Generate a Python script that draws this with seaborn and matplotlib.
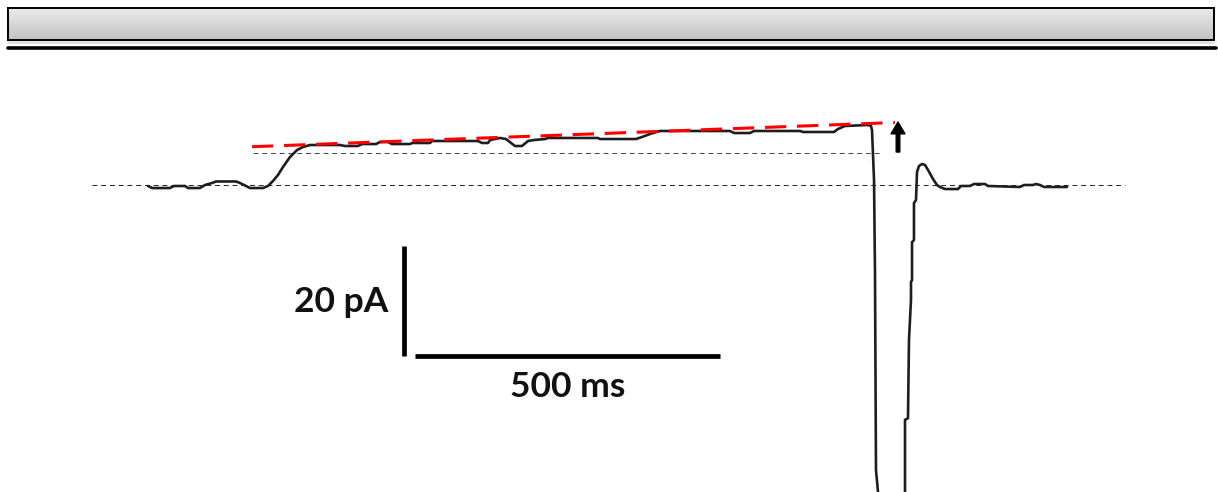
import numpy as np
import pandas as pd
import matplotlib
matplotlib.use("Agg")
import matplotlib.pyplot as plt
import seaborn as sns
from matplotlib.lines import Line2D

sns.set_style("white")
plt.rcParams["font.family"] = ["Lato", "DejaVu Sans"]

# Whole-cell current trace (time in ms, current in pA, baseline = 0)
time_ms = [0.0, 6.6, 36.1, 42.6, 60.7, 65.6, 85.2, 93.4, 104.9, 111.5, 144.3, 150.8,
           160.7, 167.2, 188.5, 196.7, 204.9, 213.1, 221.3, 232.8, 244.3, 254.1, 265.6,
           314.8, 323.0, 344.3, 350.8, 373.8, 380.3, 393.4, 400.0, 429.5, 432.8, 462.3,
           465.6, 541.0, 547.5, 557.4, 560.7, 577.0, 586.9, 595.1, 601.6, 613.1, 623.0,
           632.8, 650.8, 655.7, 737.7, 741.0, 800.0, 809.8, 823.0, 839.3, 954.1, 960.7,
           986.9, 993.4, 1068.9, 1073.8, 1124.6, 1131.1, 1142.6, 1180.3, 1185.2, 1186.9,
           1190.2, 1191.8, 1193.4, 1196.7, 1200.0, 1237.7, 1241.0, 1241.0, 1245.9, 1247.5,
           1250.8, 1250.8, 1252.5, 1252.5, 1255.7, 1255.7, 1259.0, 1260.7, 1263.9, 1268.9,
           1273.8, 1278.7, 1286.9, 1293.4, 1298.4, 1306.6, 1327.9, 1332.8, 1347.5, 1354.1,
           1372.1, 1377.0, 1429.5, 1436.1, 1450.8, 1455.7, 1462.3, 1468.9, 1506.6]
current_pA = [-0.18, -0.55, -0.55, -0.18, -0.18, -0.55, -0.55, 0.0, 0.36, 0.64, 0.64, 0.36,
              -0.18, -0.55, -0.55, -0.18, 0.73, 1.82, 3.27, 5.09, 6.36, 6.91, 7.27,
              7.27, 7.09, 7.09, 7.45, 7.45, 7.82, 7.82, 7.45, 7.45, 7.64, 7.64,
              8.0, 8.0, 7.64, 7.64, 8.18, 8.55, 8.36, 7.64, 7.09, 7.09, 8.0,
              8.18, 8.36, 8.55, 8.55, 8.36, 8.36, 8.73, 9.27, 9.82, 9.82, 9.45,
              9.45, 9.82, 9.82, 9.64, 9.64, 10.18, 10.73, 10.91, 10.73, 10.0,
              0.91, -16.0, -51.8, -55.8, -75.5, -75.5, -55.8, -42.7, -42.4, -28.2,
              -20.9, -17.6, -17.3, -10.4, -10.0, -3.27, -2.73, 2.36, 3.45, 3.82,
              3.64, 2.73, 1.09, 0.0, -0.36, -0.73, -0.73, -0.18, -0.18, 0.18,
              0.18, -0.18, -0.36, 0.0, 0.0, 0.18, 0.0, -0.36, -0.36]

# Reference levels and linear fit of the sustained current
baseline_span = [-91.8, 1601.6]
plateau_level = 5.82
plateau_span = [172.1, 1203.3]
fit_time = [170.5, 1224.6]
fit_current = [6.96, 11.36]

# Arrow marking the end of the fitted plateau
arrow_time = 1229.5
arrow_from, arrow_to = 6.0, 11.45

# Scale bars
scale_t = 500
scale_i = 20
bar_t0 = 420.0
bar_i0 = -31.0

trace = pd.DataFrame({"time": time_ms, "current": current_pA})

fig = plt.figure(figsize=(12.18, 4.92), dpi=100)
ax = fig.add_axes([0, 0, 1, 1])
ax.set_xlim(-148 / 0.61, (1218 - 148) / 0.61)
ax.set_ylim((185 - 492) / 5.5, 185 / 5.5)
ax.axis("off")

ax.plot(baseline_span, [0, 0], color="#222222", lw=0.7, dashes=(5, 4), zorder=1)
ax.plot(plateau_span, [plateau_level] * 2, color="#444444", lw=0.7, dashes=(5, 4), zorder=1)

sns.lineplot(data=trace, x="time", y="current", sort=False, estimator=None,
             color="#1e1e1e", lw=1.9, ax=ax, zorder=3)

ax.plot(fit_time, fit_current, color="#ff0000", lw=2.2, dashes=(7, 3.5), zorder=4)

ax.annotate("", xy=(arrow_time, arrow_to), xytext=(arrow_time, arrow_from),
            arrowprops=dict(facecolor="black", edgecolor="black", width=2.6,
                            headwidth=10, headlength=8.5, shrink=0))

# Scale bars
ax.plot([bar_t0, bar_t0], [bar_i0, bar_i0 + scale_i], color="black", lw=3.4,
        solid_capstyle="butt")
ax.plot([bar_t0 + 18, bar_t0 + 18 + scale_t], [bar_i0, bar_i0], color="black", lw=3.4,
        solid_capstyle="butt")
ax.text(393.4, -23.1, f"{scale_i} pA", ha="right", va="baseline",
        fontsize=25.5, fontweight="bold", color="#111111")
ax.text(688.5, -38.6, f"{scale_t} ms", ha="center", va="baseline",
        fontsize=25.5, fontweight="bold", color="#111111")

# Header bar with a vertical grey gradient
W, H = 1218, 492
hx0, hx1, hy0, hy1 = 8, 1214, 8, 40
hax = fig.add_axes([hx0 / W, 1 - hy1 / H, (hx1 - hx0) / W, (hy1 - hy0) / H])
grad = np.linspace(0.92, 0.76, 64)[:, None] * np.ones((64, 2))
hax.imshow(grad, aspect="auto", cmap="gray", vmin=0, vmax=1, extent=[0, 1, 0, 1])
hax.set_xticks([])
hax.set_yticks([])
for s in hax.spines.values():
    s.set_color("black")
    s.set_linewidth(1.4)

# Soft shadow below the header and the separator rule
fig.add_artist(plt.Rectangle((hx0 / W, 1 - 44 / H), (hx1 - hx0) / W, 4 / H,
                             transform=fig.transFigure, color="#e2e2e2", lw=0, zorder=0))
fig.add_artist(Line2D([8 / W, 1216 / W], [1 - 47.5 / H] * 2, transform=fig.transFigure,
                      color="black", lw=2.6))

fig.savefig("out.png", dpi=100)
